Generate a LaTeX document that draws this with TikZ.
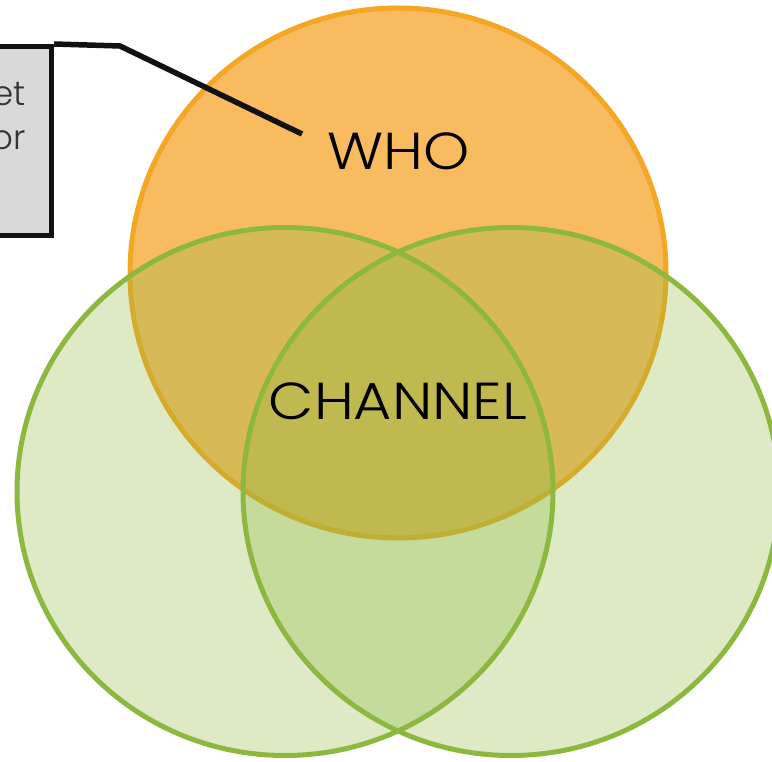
\documentclass[tikz,border=0pt]{standalone}
\usepackage{fontspec}
\setmainfont{Poppins}[UprightFont=* Light]
\newfontfamily\widefont{Poppins}[UprightFont=* Light, FakeStretch=1.13]
\definecolor{whofill}{HTML}{F8BB60}
\definecolor{whoedge}{HTML}{F5A623}
\definecolor{grn}{RGB}{141,184,63}
\definecolor{boxgray}{HTML}{D9D9D9}
\definecolor{ink}{HTML}{111111}
\tikzset{
  x=1pt, y=-1pt,
  orangeset/.style={fill=whofill, draw=whoedge, line width=5pt},
  greenset/.style={fill=grn, fill opacity=0.3, draw=grn, draw opacity=1, line width=5pt},
  setlabel/.style={font=\widefont\fontsize{52}{60}\selectfont, text=black, inner sep=0pt},
  notebox/.style={rectangle, draw=ink, fill=boxgray, line width=5.5pt, inner sep=0pt},
  notetext/.style={font=\fontsize{34}{44}\selectfont, text=black!80, align=right, inner sep=0pt},
  leader/.style={draw=ink, line width=5.5pt}
}
\begin{document}
\begin{tikzpicture}
  \useasboundingbox (0,0) rectangle (772,762);
  \begin{scope}
    \clip (0,0) rectangle (772,762);
    % the three sets
    \path[orangeset] (398,273) ellipse [x radius=268, y radius=265];
    \path[greenset] (285,491.5) ellipse [x radius=268, y radius=264];
    \path[greenset] (511,491.5) ellipse [x radius=268, y radius=264];
    % set labels
    \node[setlabel] (who) at (399,151) {WHO};
    \node[setlabel] (channel) at (398,401) {CHANNEL};
    % callout box on the left
    \node[notebox, minimum width=140pt, minimum height=189pt, anchor=north east] (note) at (54,44) {};
    \node[notetext, anchor=north east] (notetxt) at (26,82) {et\\or};
    % leader line from the box to the WHO set
    \coordinate (bend) at (120,46);
    \coordinate (tip) at (302,134);
    \draw[leader] (note.north east) -- (bend) -- (tip);
  \end{scope}
\end{tikzpicture}
\end{document}
